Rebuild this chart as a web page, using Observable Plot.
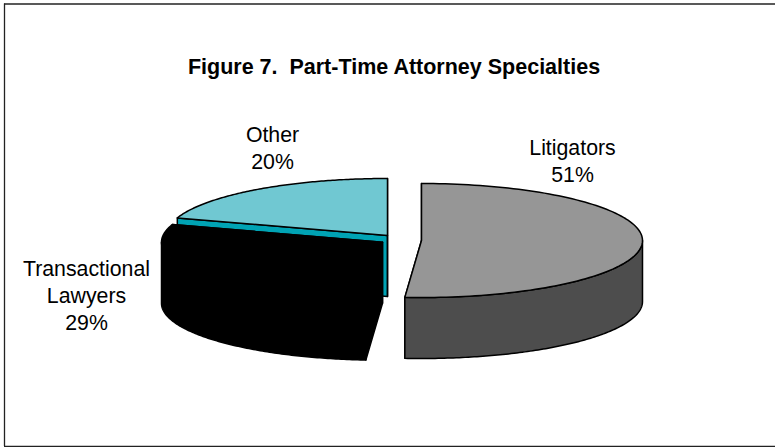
<!DOCTYPE html>
<html>
<head>
<meta charset="utf-8">
<script src="https://cdn.jsdelivr.net/npm/d3@7"></script>
<script src="https://cdn.jsdelivr.net/npm/@observablehq/plot@0.6"></script>
<style>
html,body{margin:0;padding:0;background:#fff;}
svg text{white-space:pre;}
</style>
</head>
<body>
<div id="chart"></div>
<script>
const titleText = "Figure 7.  Part-Time Attorney Specialties";
const categories = ["Litigators", "Transactional\nLawyers", "Other"];
const shares = [51.2, 28.8, 20];
const topColors = ["#969696", "#000000", "#70C8D2"];
const sideColors = ["#4D4D4D", "#000000", "#00A3B4"];

// Layout of the exploded, tilted pie (separate from the data)
const rx = 221, ry = 57, depth = 61;
const centers = [[421, 240], [382, 241.7], [387, 235]];
const labelAt = [[572, 159.5], [86, 294], [272, 146.5]];
const frame = {left: 4, top: 3.5, bottom: 446};

const pt = (c, deg, drop = 0) => {
  const a = deg * Math.PI / 180;
  return {x: c[0] + rx * Math.sin(a), y: c[1] - ry * Math.cos(a) + drop};
};
const arc = (c, a0, a1, drop = 0) =>
  d3.range(0, 121).map(i => pt(c, a0 + (a1 - a0) * i / 120, drop));

let start = 0;
const slices = shares.map((s, i) => {
  const a0 = start, a1 = start + s * 3.6;
  start = a1;
  return {i, a0, a1, c: centers[i]};
});

function facesFor(s) {
  const {c, a0, a1, i} = s;
  const apex = {x: c[0], y: c[1]};
  const apexDown = {x: c[0], y: c[1] + depth};
  const out = [];
  // flat cut faces
  for (const a of [a0, a1]) {
    const rim = pt(c, a), rimDown = pt(c, a, depth);
    out.push({pts: [apex, rim, rimDown, apexDown, apex], fill: sideColors[i]});
  }
  // curved outer wall: only the part that faces the viewer (90°..270°)
  const w0 = Math.max(a0, 90), w1 = Math.min(a1, 270);
  if (w1 > w0) {
    const top = arc(c, w0, w1), bottom = arc(c, w0, w1, depth).reverse();
    out.push({pts: [...top, ...bottom, top[0]], fill: sideColors[i]});
  }
  // top surface
  out.push({pts: [apex, ...arc(c, a0, a1), apex], fill: topColors[i]});
  return out;
}

// back-to-front: Other, Transactional, Litigators
const faces = [slices[2], slices[1], slices[0]].flatMap(facesFor);

const labels = categories.map((c, i) => ({
  text: `${c}\n${Math.round(shares[i])}%`, x: labelAt[i][0], y: labelAt[i][1]
}));

const plot = Plot.plot({
  width: 775, height: 447,
  margin: 0,
  style: {background: "#fff", fontFamily: "'Liberation Sans', Arial, sans-serif"},
  x: {domain: [0, 775], range: [0, 775], axis: null},
  y: {domain: [0, 447], range: [0, 447], axis: null},
  marks: [
    Plot.ruleX([frame.left], {y1: frame.top, y2: frame.bottom, stroke: "#222", strokeWidth: 1.3}),
    Plot.ruleY([frame.top, frame.bottom], {x1: frame.left, x2: 775, stroke: "#222", strokeWidth: 1.3}),
    ...faces.map(f => Plot.line(f.pts, {
      x: "x", y: "y", fill: f.fill, stroke: "#000", strokeWidth: 1.5,
      strokeLinejoin: "round", curve: "linear"
    })),
    Plot.text([titleText], {
      x: () => 393.5, y: () => 67, text: d => d, fontSize: 21.5, fontWeight: "bold", fill: "#000"
    }),
    Plot.text(labels, {
      x: "x", y: "y", text: "text", fontSize: 21.3, lineHeight: 1.27, fill: "#000"
    })
  ]
});
document.getElementById("chart").appendChild(plot);
</script>
</body>
</html>
